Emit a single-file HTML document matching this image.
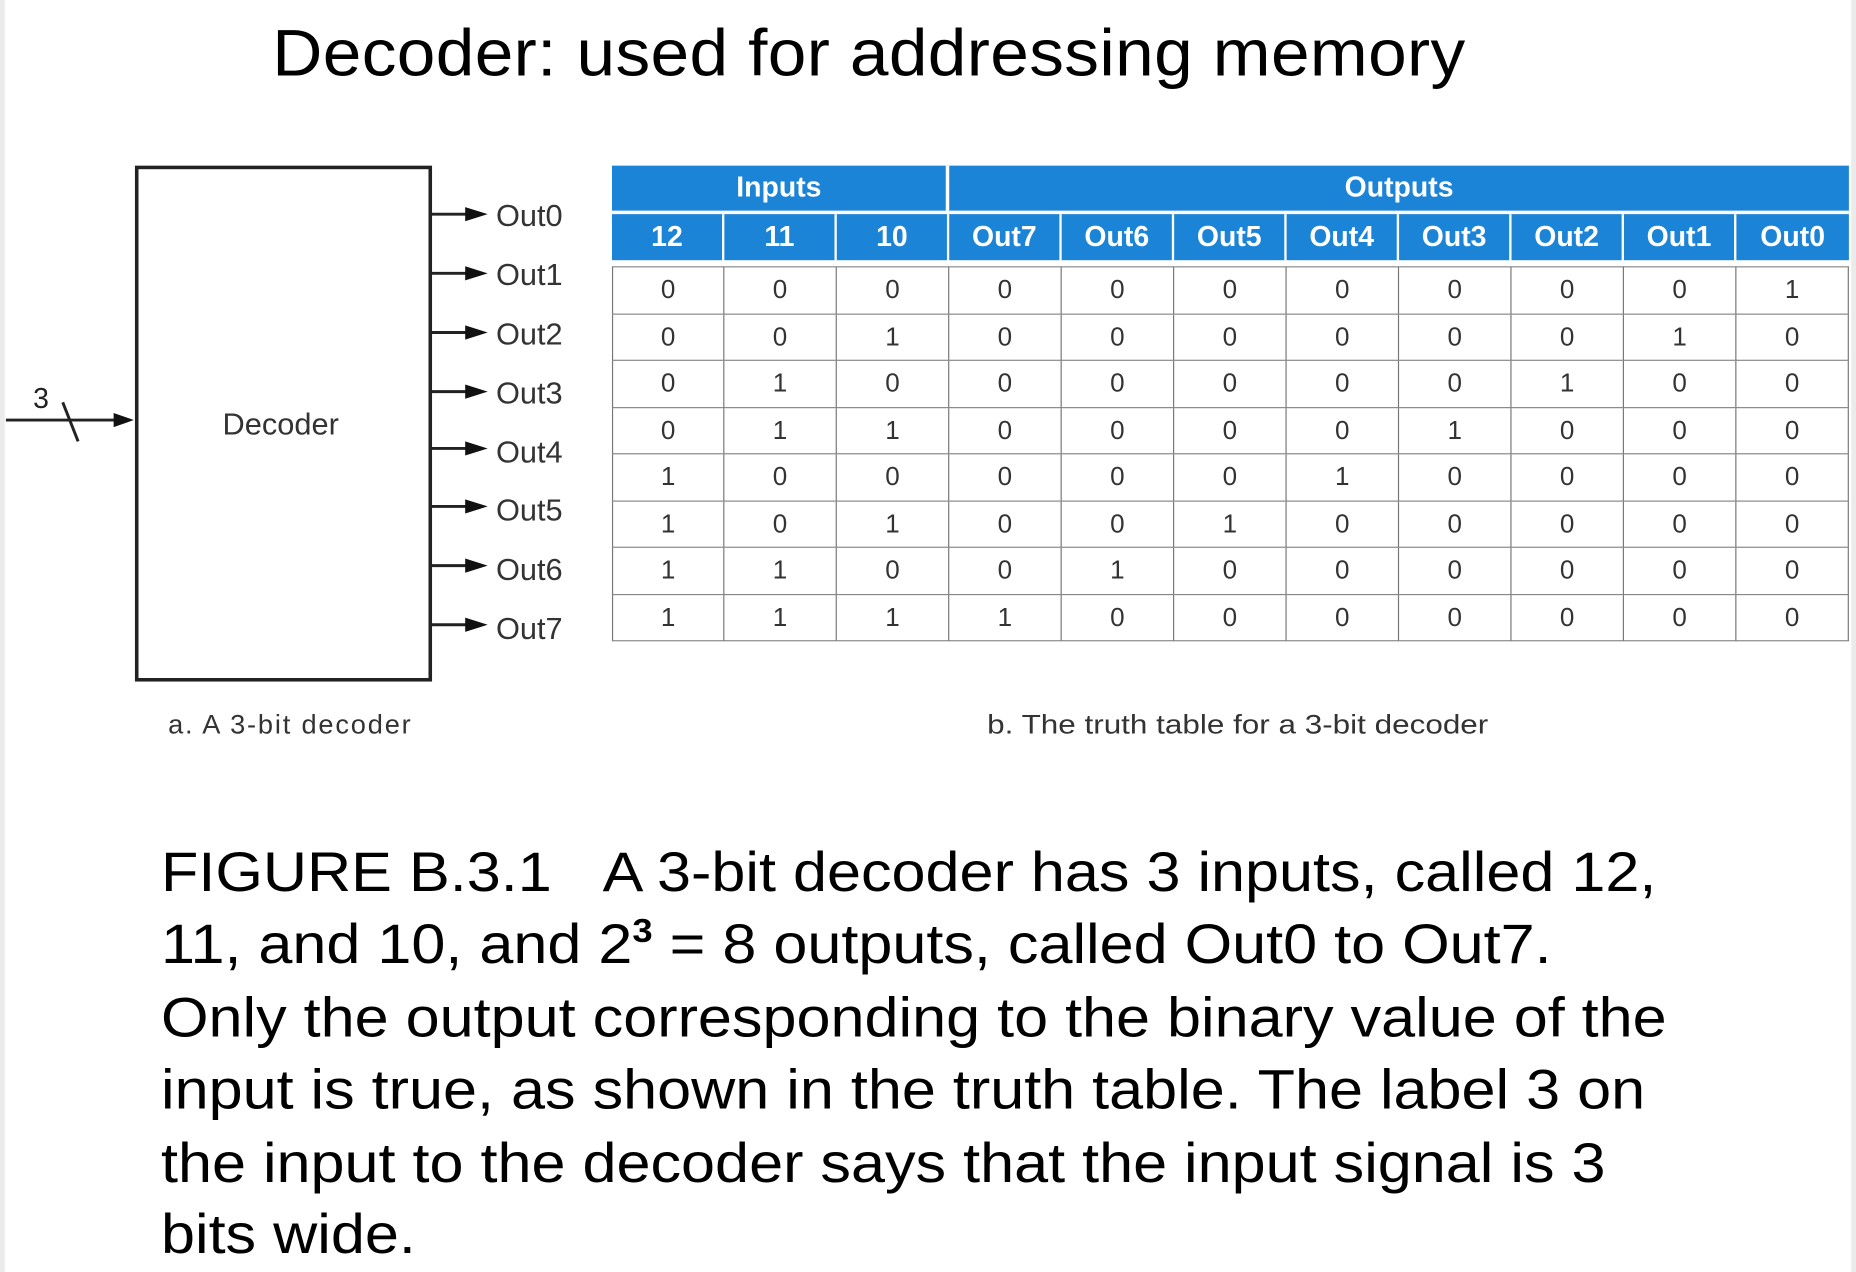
<!DOCTYPE html>
<html><head><meta charset="utf-8"><style>
html,body{margin:0;padding:0;background:#fff;overflow:hidden}
#w{position:absolute;left:0;top:0;width:1568px;height:1075px;transform:scale(1.18367,1.18326);transform-origin:0 0;font-family:"Liberation Sans",Arial,sans-serif;background:#fff}
.a{position:absolute;white-space:nowrap}
.cap{font-size:47px;color:#000;left:136px;line-height:1;transform:scaleX(1.099);transform-origin:0 0}
table{position:absolute;left:517px;top:140px;border-collapse:separate;border-spacing:0;table-layout:fixed;width:1045px}
td{text-align:center;padding:0;}
.h td{background:#1b84d6;color:#fff;font-weight:bold;font-size:24px}
.h1 td{height:38px;border-bottom:3px solid #fff}
.h1 td.s{border-right:3px solid #fff}
.h2 td{height:39px;border-right:2px solid #fff}
.h2 td:last-child{border-right:none}
.gap td{height:5px;background:#fff;padding:0}
.b td{height:38.5px;border-right:1px solid #777;border-bottom:1px solid #888;font-size:22px;color:#333}
.b td:first-child{border-left:1px solid #777}
.b.f td{border-top:1px solid #888}
</style></head><body><div id="w">
<div class="a" style="left:0;top:0;width:4px;height:1075px;background:#ebebeb"></div>
<div class="a" style="left:1564px;top:0;width:4px;height:1075px;background:#ebebeb"></div>
<div class="a" style="left:230px;top:12px;font-size:56px;font-family:'Liberation Sans Narrow','Liberation Sans',sans-serif;letter-spacing:0.3px;transform:scaleX(1.047);transform-origin:0 0">Decoder: used for addressing memory</div>

<svg class="a" style="left:0;top:0" width="520" height="650">
<rect x="115.5" y="141.5" width="248" height="433" fill="none" stroke="#222" stroke-width="3"/>
<g stroke="#222" stroke-width="2.5">
<line x1="5" y1="355" x2="100" y2="355"/>
<line x1="53" y1="340" x2="66" y2="373"/>
</g>
<polygon points="96,349 113,355 96,361" fill="#111"/>
<text x="28" y="345" font-size="24" font-family="Liberation Sans" fill="#222">3</text>
<g stroke="#222" stroke-width="2.5">
<line x1="364" y1="181" x2="398" y2="181"/><line x1="364" y1="231" x2="398" y2="231"/>
<line x1="364" y1="281" x2="398" y2="281"/><line x1="364" y1="331" x2="398" y2="331"/>
<line x1="364" y1="379" x2="398" y2="379"/><line x1="364" y1="428" x2="398" y2="428"/>
<line x1="364" y1="478" x2="398" y2="478"/><line x1="364" y1="528" x2="398" y2="528"/>
</g>
<g fill="#111">
<polygon points="393,175 412,181 393,187"/><polygon points="393,225 412,231 393,237"/>
<polygon points="393,275 412,281 393,287"/><polygon points="393,325 412,331 393,337"/>
<polygon points="393,373 412,379 393,385"/><polygon points="393,422 412,428 393,434"/>
<polygon points="393,472 412,478 393,484"/><polygon points="393,522 412,528 393,534"/>
</g>
<g font-size="26" font-family="Liberation Sans" fill="#333">
<text x="419" y="191">Out0</text><text x="419" y="241">Out1</text>
<text x="419" y="291">Out2</text><text x="419" y="341">Out3</text>
<text x="419" y="391">Out4</text><text x="419" y="440">Out5</text>
<text x="419" y="490">Out6</text><text x="419" y="540">Out7</text>
<text x="188" y="367">Decoder</text>
</g>
<text x="142" y="620" font-size="23" font-family="Liberation Sans" fill="#333" textLength="205">a. A 3-bit decoder</text>
</svg>

<table>
<tr class="h h1"><td colspan="3" class="s">Inputs</td><td colspan="8">Outputs</td></tr>
<tr class="h h2"><td>12</td><td>11</td><td>10</td><td>Out7</td><td>Out6</td><td>Out5</td><td>Out4</td><td>Out3</td><td>Out2</td><td>Out1</td><td>Out0</td></tr>
<tr class="gap"><td colspan="11"></td></tr>
<tr class="b f"><td>0</td><td>0</td><td>0</td><td>0</td><td>0</td><td>0</td><td>0</td><td>0</td><td>0</td><td>0</td><td>1</td></tr>
<tr class="b"><td>0</td><td>0</td><td>1</td><td>0</td><td>0</td><td>0</td><td>0</td><td>0</td><td>0</td><td>1</td><td>0</td></tr>
<tr class="b"><td>0</td><td>1</td><td>0</td><td>0</td><td>0</td><td>0</td><td>0</td><td>0</td><td>1</td><td>0</td><td>0</td></tr>
<tr class="b"><td>0</td><td>1</td><td>1</td><td>0</td><td>0</td><td>0</td><td>0</td><td>1</td><td>0</td><td>0</td><td>0</td></tr>
<tr class="b"><td>1</td><td>0</td><td>0</td><td>0</td><td>0</td><td>0</td><td>1</td><td>0</td><td>0</td><td>0</td><td>0</td></tr>
<tr class="b"><td>1</td><td>0</td><td>1</td><td>0</td><td>0</td><td>1</td><td>0</td><td>0</td><td>0</td><td>0</td><td>0</td></tr>
<tr class="b"><td>1</td><td>1</td><td>0</td><td>0</td><td>1</td><td>0</td><td>0</td><td>0</td><td>0</td><td>0</td><td>0</td></tr>
<tr class="b"><td>1</td><td>1</td><td>1</td><td>1</td><td>0</td><td>0</td><td>0</td><td>0</td><td>0</td><td>0</td><td>0</td></tr>
</table>

<div class="a" style="left:834px;top:599px;font-size:23px;color:#333;transform:scaleX(1.155);transform-origin:0 0">b. The truth table for a 3-bit decoder</div>

<div class="a cap" style="top:713px">FIGURE B.3.1&nbsp;&nbsp;&nbsp;A 3-bit decoder has 3 inputs, called 12,</div>
<div class="a cap" style="top:774px">11, and 10, and 2<sup style="font-size:28px;font-weight:bold;vertical-align:18px;line-height:0">3</sup> = 8 outputs, called Out0 to Out7.</div>
<div class="a cap" style="top:836px">Only the output corresponding to the binary value of the</div>
<div class="a cap" style="top:897px">input is true, as shown in the truth table. The label 3 on</div>
<div class="a cap" style="top:959px">the input to the decoder says that the input signal is 3</div>
<div class="a cap" style="top:1019px">bits wide.</div>
</div></body></html>
